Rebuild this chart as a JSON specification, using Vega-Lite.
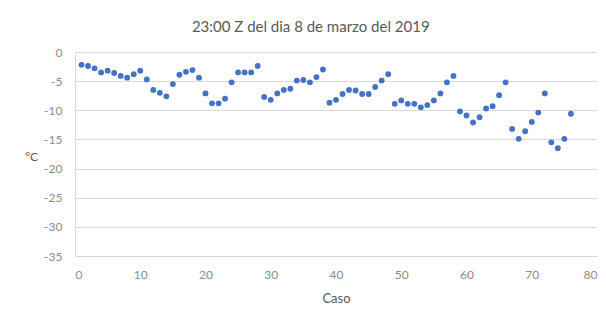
{
  "$schema": "https://vega.github.io/schema/vega-lite/v6.json",
  "autosize": "none",
  "width": 522,
  "height": 204,
  "padding": {"left": 75, "top": 52, "right": 9, "bottom": 65},
  "background": "white",
  "title": {
    "text": "23:00 Z del dia 8 de marzo del 2019",
    "anchor": "middle",
    "frame": "bounds",
    "font": "Lato",
    "fontSize": 15,
    "fontWeight": "normal",
    "color": "#595959",
    "offset": 11
  },
  "data": {
    "values": [
      {"caso": 1, "t": -2.2}, {"caso": 2, "t": -2.4}, {"caso": 3, "t": -2.8}, {"caso": 4, "t": -3.5},
      {"caso": 5, "t": -3.2}, {"caso": 6, "t": -3.6}, {"caso": 7, "t": -4.1}, {"caso": 8, "t": -4.4},
      {"caso": 9, "t": -3.8}, {"caso": 10, "t": -3.2}, {"caso": 11, "t": -4.7}, {"caso": 12, "t": -6.5},
      {"caso": 13, "t": -7.0}, {"caso": 14, "t": -7.6}, {"caso": 15, "t": -5.5}, {"caso": 16, "t": -3.9},
      {"caso": 17, "t": -3.4}, {"caso": 18, "t": -3.1}, {"caso": 19, "t": -4.4}, {"caso": 20, "t": -7.1},
      {"caso": 21, "t": -8.8}, {"caso": 22, "t": -8.8}, {"caso": 23, "t": -8.0}, {"caso": 24, "t": -5.2},
      {"caso": 25, "t": -3.5}, {"caso": 26, "t": -3.5}, {"caso": 27, "t": -3.5}, {"caso": 28, "t": -2.4},
      {"caso": 29, "t": -7.7}, {"caso": 30, "t": -8.2}, {"caso": 31, "t": -7.1}, {"caso": 32, "t": -6.5},
      {"caso": 33, "t": -6.3}, {"caso": 34, "t": -4.9}, {"caso": 35, "t": -4.8}, {"caso": 36, "t": -5.2},
      {"caso": 37, "t": -4.3}, {"caso": 38, "t": -3.0}, {"caso": 39, "t": -8.7}, {"caso": 40, "t": -8.2},
      {"caso": 41, "t": -7.2}, {"caso": 42, "t": -6.5}, {"caso": 43, "t": -6.6}, {"caso": 44, "t": -7.2},
      {"caso": 45, "t": -7.2}, {"caso": 46, "t": -6.0}, {"caso": 47, "t": -4.9}, {"caso": 48, "t": -3.8},
      {"caso": 49, "t": -8.9}, {"caso": 50, "t": -8.3}, {"caso": 51, "t": -8.9}, {"caso": 52, "t": -8.9},
      {"caso": 53, "t": -9.5}, {"caso": 54, "t": -9.1}, {"caso": 55, "t": -8.3}, {"caso": 56, "t": -7.1},
      {"caso": 57, "t": -5.2}, {"caso": 58, "t": -4.1}, {"caso": 59, "t": -10.2}, {"caso": 60, "t": -10.9},
      {"caso": 61, "t": -12.1}, {"caso": 62, "t": -11.2}, {"caso": 63, "t": -9.7}, {"caso": 64, "t": -9.3},
      {"caso": 65, "t": -7.4}, {"caso": 66, "t": -5.2}, {"caso": 67, "t": -13.2}, {"caso": 68, "t": -14.9},
      {"caso": 69, "t": -13.6}, {"caso": 70, "t": -12.0}, {"caso": 71, "t": -10.4}, {"caso": 72, "t": -7.1},
      {"caso": 73, "t": -15.5}, {"caso": 74, "t": -16.5}, {"caso": 75, "t": -14.9}, {"caso": 76, "t": -10.6}
    ]
  },
  "mark": {"type": "circle", "size": 34, "color": "#4472C4", "opacity": 1},
  "encoding": {
    "x": {
      "field": "caso",
      "type": "quantitative",
      "title": "Caso",
      "scale": {"domain": [0, 80], "nice": false},
      "axis": {
        "values": [0, 10, 20, 30, 40, 50, 60, 70, 80],
        "grid": false,
        "domain": false,
        "ticks": false,
        "labelPadding": 13,
        "labelFont": "Lato",
        "labelFontSize": 12,
        "labelColor": "#8c8c8c",
        "titleFont": "Lato",
        "titleFontSize": 13,
        "titleFontWeight": "normal",
        "titleColor": "#595959",
        "titlePadding": 12
      }
    },
    "y": {
      "field": "t",
      "type": "quantitative",
      "title": "°C",
      "scale": {"domain": [-35, 0], "nice": false},
      "axis": {
        "values": [0, -5, -10, -15, -20, -25, -30, -35],
        "labelExpr": "datum.value + ''",
        "grid": true,
        "gridColor": "#d9d9d9",
        "gridWidth": 1,
        "domain": true,
        "domainColor": "#d9d9d9",
        "ticks": false,
        "labelPadding": 13,
        "labelFont": "Lato",
        "labelFontSize": 12,
        "labelColor": "#8c8c8c",
        "titleFont": "Lato",
        "titleFontSize": 12,
        "titleFontWeight": "normal",
        "titleColor": "#595959",
        "titleAngle": 0,
        "titleX": -44,
        "titleY": 104,
        "titleAlign": "center",
        "titleBaseline": "middle"
      }
    }
  },
  "config": {"view": {"stroke": null}}
}
